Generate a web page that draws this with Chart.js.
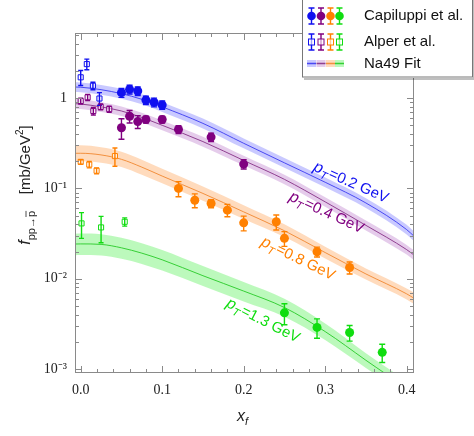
<!DOCTYPE html>
<html>
<head>
<meta charset="utf-8">
<script src="https://cdn.jsdelivr.net/npm/chart.js@4.4.1/dist/chart.umd.min.js"></script>
<style>
  html, body { margin: 0; padding: 0; background: #fff; }
  #chart { display: block; }
</style>
</head>
<body>
<canvas id="chart" width="474" height="436"></canvas>
<script>
'use strict';

// Na49 fit curves (centre, upper and lower edge of band)
var fitX = [-0.01, 0, 0.025, 0.05, 0.075, 0.1, 0.15, 0.2, 0.25, 0.3, 0.35, 0.4, 0.41];
var fitBlue   = [1.33, 1.32, 1.24, 1.12, 0.97, 0.80, 0.525, 0.316, 0.192, 0.117, 0.069, 0.035, 0.029];
var fitBlueHi = [1.50, 1.49, 1.40, 1.27, 1.10, 0.90, 0.593, 0.357, 0.217, 0.132, 0.078, 0.0395, 0.0328];
var fitBlueLo = [1.17, 1.16, 1.09, 0.986, 0.854, 0.704, 0.462, 0.278, 0.169, 0.103, 0.0607, 0.0308, 0.0255];
var fitPurple   = [0.87, 0.86, 0.80, 0.72, 0.61, 0.50, 0.33, 0.204, 0.126, 0.071, 0.039, 0.021, 0.018];
var fitPurpleHi = [0.98, 0.97, 0.90, 0.81, 0.69, 0.565, 0.373, 0.23, 0.142, 0.080, 0.044, 0.0237, 0.0203];
var fitPurpleLo = [0.766, 0.757, 0.70, 0.634, 0.537, 0.44, 0.29, 0.18, 0.111, 0.0625, 0.0343, 0.0185, 0.0158];
var fitOrange   = [0.245, 0.245, 0.235, 0.21, 0.172, 0.137, 0.088, 0.055, 0.034, 0.0195, 0.0113, 0.0068, 0.006];
var fitOrangeHi = [0.30, 0.30, 0.286, 0.255, 0.208, 0.165, 0.105, 0.065, 0.04, 0.0226, 0.013, 0.0078, 0.0069];
var fitOrangeLo = [0.20, 0.20, 0.193, 0.173, 0.142, 0.114, 0.073, 0.046, 0.029, 0.0168, 0.0098, 0.0059, 0.0052];
var fitGreen   = [0.0242, 0.0243, 0.024, 0.022, 0.0192, 0.0162, 0.0108, 0.0073, 0.0048, 0.0026, 0.00125, 0.0006, 0.0005];
var fitGreenHi = [0.0315, 0.0316, 0.031, 0.0284, 0.0247, 0.0208, 0.0138, 0.0092, 0.006, 0.0032, 0.0015, 0.00072, 0.0006];
var fitGreenLo = [0.0182, 0.0183, 0.0181, 0.0166, 0.0146, 0.0123, 0.0083, 0.0056, 0.0038, 0.0021, 0.00103, 0.0005, 0.00042];

// Capiluppi et al. (filled circles)
var capBlueX = [0.05, 0.06, 0.07, 0.08, 0.09, 0.1];
var capBlueY = [1.15, 1.25, 1.2, 0.95, 0.9, 0.84];
var capBlueErr = [0.13, 0.14, 0.13, 0.1, 0.1, 0.09];
var capPurpleX = [0.05, 0.06, 0.07, 0.08, 0.1, 0.12, 0.16, 0.2];
var capPurpleY = [0.47, 0.63, 0.55, 0.58, 0.58, 0.45, 0.37, 0.186];
var capPurpleErr = [0.12, 0.1, 0.09, 0.05, 0.05, 0.045, 0.04, 0.022];
var capOrangeX = [0.12, 0.14, 0.16, 0.18, 0.2, 0.24, 0.25, 0.29, 0.33];
var capOrangeY = [0.1, 0.074, 0.068, 0.0575, 0.0416, 0.0427, 0.028, 0.0199, 0.0133];
var capOrangeErr = [0.019, 0.013, 0.007, 0.009, 0.0077, 0.008, 0.0052, 0.0025, 0.002];
var capGreenX = [0.25, 0.29, 0.33, 0.37];
var capGreenY = [0.00419, 0.00289, 0.00254, 0.00153];
var capGreenErr = [0.0011, 0.0007, 0.0005, 0.00035];

// Alper et al. (open squares)
var alpBlueX = [0, 0.0075, 0.015, 0.023];
var alpBlueY = [1.7, 2.38, 1.37, 0.99];
var alpBlueErr = [0.32, 0.32, 0.13, 0.16];
var alpPurpleX = [0, 0.0085, 0.0155, 0.0245, 0.035];
var alpPurpleY = [0.93, 1.02, 0.72, 0.8, 0.755];
var alpPurpleErr = [0.07, 0.08, 0.07, 0.06, 0.06];
var alpOrangeX = [0, 0.0105, 0.0195, 0.042];
var alpOrangeY = [0.197, 0.184, 0.157, 0.228];
var alpOrangeErr = [0.011, 0.015, 0.012, 0.052];
var alpGreenX = [0.001, 0.025, 0.054];
var alpGreenY = [0.041, 0.037, 0.0427];
var alpGreenErr = [0.013, 0.012, 0.0045];

var ptValues = ['0.2', '0.4', '0.8', '1.3'];
var ptLabelX = [0.332, 0.302, 0.267, 0.224];
var ptLabelY = [0.1175, 0.0547, 0.0169, 0.00348];
var ptAngle = [24, 24.6, 26, 27];

var colors = ['#1010f0', '#800080', '#ff8000', '#10dd10'];
var bandColors = ['rgba(90,90,255,0.33)', 'rgba(175,100,195,0.33)', 'rgba(255,165,90,0.4)', 'rgba(80,240,80,0.38)'];
var lineColors = ['rgba(50,50,240,0.85)', 'rgba(128,40,128,0.85)', 'rgba(240,130,40,0.85)', 'rgba(30,200,30,0.85)'];

function pts(xs, ys) {
    return xs.map(function (x, i) { return { x: x, y: ys[i] }; });
}

var fits = [[fitBlue, fitBlueHi, fitBlueLo], [fitPurple, fitPurpleHi, fitPurpleLo],
            [fitOrange, fitOrangeHi, fitOrangeLo], [fitGreen, fitGreenHi, fitGreenLo]];
var caps = [[capBlueX, capBlueY, capBlueErr], [capPurpleX, capPurpleY, capPurpleErr],
            [capOrangeX, capOrangeY, capOrangeErr], [capGreenX, capGreenY, capGreenErr]];
var alps = [[alpBlueX, alpBlueY, alpBlueErr], [alpPurpleX, alpPurpleY, alpPurpleErr],
            [alpOrangeX, alpOrangeY, alpOrangeErr], [alpGreenX, alpGreenY, alpGreenErr]];

var datasets = [];
fits.forEach(function (f, k) {
    datasets.push({
        data: pts(fitX, f[1]), borderWidth: 0, pointRadius: 0, fill: '+1',
        backgroundColor: bandColors[k], cubicInterpolationMode: 'monotone', order: 5
    });
    datasets.push({
        data: pts(fitX, f[2]), borderWidth: 0, pointRadius: 0, fill: false,
        cubicInterpolationMode: 'monotone', order: 5
    });
    datasets.push({
        data: pts(fitX, f[0]), borderWidth: 1, borderColor: lineColors[k], pointRadius: 0,
        fill: false, cubicInterpolationMode: 'monotone', order: 4
    });
});
alps.forEach(function (a, k) {
    datasets.push({
        data: pts(a[0], a[1]), showLine: false, pointStyle: 'rect', pointRadius: 3.6,
        borderWidth: 1, borderColor: colors[k], backgroundColor: 'rgba(255,255,255,0.6)',
        errors: a[2], errColor: colors[k], capW: 2.5, order: 2
    });
});
caps.forEach(function (c, k) {
    datasets.push({
        data: pts(c[0], c[1]), showLine: false, pointStyle: 'circle', pointRadius: 4.5,
        borderWidth: 0, backgroundColor: colors[k],
        errors: c[2], errColor: colors[k], capW: 3, order: 1
    });
});

var errorBars = {
    id: 'errorBars',
    afterDatasetsDraw: function (chart) {
        var ctx = chart.ctx, xs = chart.scales.x, ys = chart.scales.y, a = chart.chartArea;
        ctx.save();
        ctx.beginPath();
        ctx.rect(a.left, a.top, a.right - a.left, a.bottom - a.top);
        ctx.clip();
        chart.data.datasets.forEach(function (ds) {
            if (!ds.errors) return;
            ctx.strokeStyle = ds.errColor;
            ctx.lineWidth = 1.4;
            ds.data.forEach(function (p, i) {
                var px = xs.getPixelForValue(p.x);
                var top = ys.getPixelForValue(p.y + ds.errors[i]);
                var bot = ys.getPixelForValue(Math.max(p.y - ds.errors[i], 1e-6));
                ctx.beginPath();
                ctx.moveTo(px, top); ctx.lineTo(px, bot);
                ctx.moveTo(px - ds.capW, top); ctx.lineTo(px + ds.capW, top);
                ctx.moveTo(px - ds.capW, bot); ctx.lineTo(px + ds.capW, bot);
                ctx.stroke();
            });
        });
        ctx.restore();
    }
};

var frameTicks = {
    id: 'frameTicks',
    afterDatasetsDraw: function (chart) {
        var ctx = chart.ctx, xs = chart.scales.x, ys = chart.scales.y, a = chart.chartArea;
        ctx.save();
        ctx.strokeStyle = '#8a8a8a';
        ctx.lineWidth = 1;
        ctx.strokeRect(a.left + 0.5, a.top + 0.5, a.right - a.left - 1, a.bottom - a.top - 1);
        ctx.beginPath();
        for (var k = 0; k <= 20; k++) {
            var px = Math.round(xs.getPixelForValue(k * 0.02)) + 0.5;
            var len = (k % 5 === 0) ? 7 : 4;
            ctx.moveTo(px, a.bottom); ctx.lineTo(px, a.bottom - len);
            ctx.moveTo(px, a.top); ctx.lineTo(px, a.top + len);
        }
        for (var d = -4; d <= 0; d++) {
            for (var m = 1; m <= 9; m++) {
                var v = m * Math.pow(10, d);
                if (v < ys.min || v > ys.max) continue;
                var py = Math.round(ys.getPixelForValue(v)) + 0.5;
                var l = (m === 1) ? 7 : 4;
                ctx.moveTo(a.left, py); ctx.lineTo(a.left + l, py);
                ctx.moveTo(a.right, py); ctx.lineTo(a.right - l, py);
            }
        }
        ctx.stroke();
        ctx.restore();
    }
};

function drawPt(ctx, label, color) {
    ctx.fillStyle = color;
    ctx.textBaseline = 'alphabetic';
    ctx.font = 'italic 16px "Liberation Sans"';
    var w1 = ctx.measureText('p').width;
    ctx.font = 'italic 11px "Liberation Sans"';
    var w2 = ctx.measureText('T').width;
    ctx.font = '15px "Liberation Sans"';
    var s = '=' + label + ' GeV';
    var w3 = ctx.measureText(s).width;
    var x = -(w1 + w2 + 1 + w3) / 2;
    ctx.font = 'italic 16px "Liberation Sans"';
    ctx.fillText('p', x, 5);
    ctx.font = 'italic 11px "Liberation Sans"';
    ctx.fillText('T', x + w1, 9);
    ctx.font = '15px "Liberation Sans"';
    ctx.fillText(s, x + w1 + w2 + 1, 5);
}

var annotations = {
    id: 'annotations',
    afterDraw: function (chart) {
        var ctx = chart.ctx, xs = chart.scales.x, ys = chart.scales.y;
        var i;
        // curve labels
        for (i = 0; i < 4; i++) {
            ctx.save();
            ctx.translate(xs.getPixelForValue(ptLabelX[i]), ys.getPixelForValue(ptLabelY[i]));
            ctx.rotate(ptAngle[i] * Math.PI / 180);
            drawPt(ctx, ptValues[i], colors[i]);
            ctx.restore();
        }

        // axis titles
        ctx.save();
        ctx.fillStyle = '#222';
        ctx.textBaseline = 'alphabetic';
        ctx.font = 'italic 16px "Liberation Sans"';
        ctx.fillText('x', 237, 421);
        ctx.font = 'italic 11px "Liberation Sans"';
        ctx.fillText('f', 245, 425);
        ctx.restore();

        ctx.save();
        ctx.translate(30, 185);
        ctx.rotate(-Math.PI / 2);
        ctx.fillStyle = '#222';
        ctx.textBaseline = 'alphabetic';
        var parts = [
            ['italic 16px "Liberation Sans"', 'f', 0],
            ['11px "Liberation Sans"', 'pp\u2192p', 5],
            ['15px "Liberation Sans"', '    [mb/GeV', 0],
            ['10px "Liberation Sans"', '2', -7],
            ['15px "Liberation Sans"', ']', 0]
        ];
        var total = 0;
        parts.forEach(function (p) { ctx.font = p[0]; total += ctx.measureText(p[1]).width; });
        var x = -total / 2;
        parts.forEach(function (p, j) {
            ctx.font = p[0];
            ctx.fillText(p[1], x, p[2]);
            var w = ctx.measureText(p[1]).width;
            if (j === 1) {
                var pw = ctx.measureText('p').width;
                ctx.strokeStyle = '#222';
                ctx.lineWidth = 0.8;
                ctx.beginPath();
                ctx.moveTo(x + w - pw, -4); ctx.lineTo(x + w, -4);
                ctx.stroke();
            }
            x += w;
        });
        ctx.restore();

        // legend
        ctx.save();
        ctx.fillStyle = 'rgba(0,0,0,0.25)';
        ctx.fillRect(304, 0, 172, 80);
        ctx.fillStyle = '#fff';
        ctx.fillRect(302, -1, 171, 79);
        ctx.strokeStyle = '#777';
        ctx.lineWidth = 1;
        ctx.strokeRect(302.5, -1, 170, 78);
        var lx = [311.5, 321, 330.5, 339.5];
        for (i = 0; i < 4; i++) {
            // Capiluppi
            ctx.strokeStyle = colors[i];
            ctx.lineWidth = 1.4;
            ctx.beginPath();
            ctx.moveTo(lx[i], 8); ctx.lineTo(lx[i], 24);
            ctx.moveTo(lx[i] - 3, 8); ctx.lineTo(lx[i] + 3, 8);
            ctx.moveTo(lx[i] - 3, 24); ctx.lineTo(lx[i] + 3, 24);
            ctx.stroke();
            ctx.fillStyle = colors[i];
            ctx.beginPath();
            ctx.arc(lx[i], 16, 4.3, 0, Math.PI * 2);
            ctx.fill();
            // Alper
            ctx.beginPath();
            ctx.moveTo(lx[i], 34); ctx.lineTo(lx[i], 50);
            ctx.moveTo(lx[i] - 3, 34); ctx.lineTo(lx[i] + 3, 34);
            ctx.moveTo(lx[i] - 3, 50); ctx.lineTo(lx[i] + 3, 50);
            ctx.stroke();
            ctx.fillStyle = 'rgba(255,255,255,0.6)';
            ctx.fillRect(lx[i] - 3, 39, 6, 6);
            ctx.lineWidth = 1;
            ctx.strokeRect(lx[i] - 3, 39, 6, 6);
            // Na49 fit
            ctx.fillStyle = bandColors[i];
            ctx.fillRect(lx[i] - 4.5, 60, 9, 7);
            ctx.strokeStyle = lineColors[i];
            ctx.lineWidth = 1.5;
            ctx.beginPath();
            ctx.moveTo(lx[i] - 4.5, 63.5); ctx.lineTo(lx[i] + 4.5, 63.5);
            ctx.stroke();
        }
        ctx.fillStyle = '#111';
        ctx.font = '15px "Liberation Sans"';
        ctx.textBaseline = 'middle';
        ctx.fillText('Capiluppi et al.', 364, 16);
        ctx.fillText('Alper et al.', 364, 42);
        ctx.fillText('Na49 Fit', 364, 64);
        ctx.restore();
    }
};

function supExp(e) {
    var map = { '-': '\u207B', '0': '\u2070', '1': '\u00B9', '2': '\u00B2', '3': '\u00B3', '4': '\u2074' };
    return String(e).split('').map(function (c) { return map[c]; }).join('');
}

var ctx = document.getElementById('chart').getContext('2d');
var myChart = new Chart(ctx, {
    type: 'line',
    data: { datasets: datasets },
    plugins: [errorBars, frameTicks, annotations],
    options: {
        responsive: false,
        animation: false,
        events: [],
        layout: { padding: { top: 33, right: 60, left: 0, bottom: 0 } },
        plugins: { legend: { display: false }, tooltip: { enabled: false } },
        scales: {
            x: {
                type: 'linear',
                min: -0.007,
                max: 0.409,
                grid: { display: false, drawTicks: false },
                border: { display: false },
                ticks: {
                    stepSize: 0.1,
                    includeBounds: false,
                    padding: 9,
                    color: '#222',
                    maxRotation: 0,
                    font: { family: '"Liberation Serif"', size: 14 },
                    callback: function (v) { return v.toFixed(1); }
                },
                afterFit: function (scale) { scale.height = 63; }
            },
            y: {
                type: 'logarithmic',
                min: 0.000904,
                max: 5.26,
                grid: { display: false, drawTicks: false },
                border: { display: false },
                ticks: {
                    autoSkip: false,
                    padding: 8,
                    color: '#222',
                    font: { family: '"Liberation Serif"', size: 14 },
                    callback: function (v) {
                        var e = Math.log10(v);
                        if (Math.abs(e - Math.round(e)) > 1e-6) return '';
                        e = Math.round(e);
                        return e === 0 ? '1' : '10' + supExp(e);
                    }
                },
                afterFit: function (scale) { scale.width = 75; }
            }
        }
    }
});
</script>
</body>
</html>
